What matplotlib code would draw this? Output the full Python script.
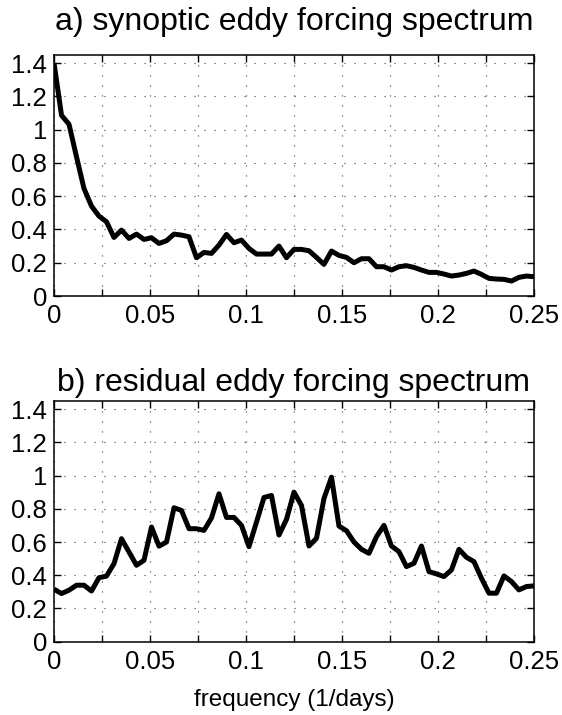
import numpy as np
import matplotlib
matplotlib.use("Agg")
import matplotlib.pyplot as plt
from matplotlib.ticker import FixedLocator, FuncFormatter

# frequency axis: 65 points, spacing 1/256 day^-1
freq = np.arange(65) / 256.0

synoptic = [1.40, 1.086, 1.032, 0.836, 0.646, 0.54, 0.48, 0.446, 0.352, 0.396,
            0.346, 0.372, 0.34, 0.35, 0.316, 0.332, 0.372, 0.366, 0.356, 0.23,
            0.262, 0.256, 0.306, 0.37, 0.32, 0.336, 0.286, 0.252, 0.252, 0.252,
            0.30, 0.23, 0.28, 0.28, 0.272, 0.232, 0.19, 0.27, 0.244, 0.232,
            0.20, 0.224, 0.224, 0.176, 0.176, 0.156, 0.176, 0.182, 0.172, 0.156,
            0.142, 0.142, 0.132, 0.12, 0.126, 0.136, 0.15, 0.13, 0.106, 0.102,
            0.10, 0.09, 0.112, 0.12, 0.116]

residual = [0.316, 0.29, 0.31, 0.34, 0.34, 0.305, 0.385, 0.395, 0.47, 0.62,
            0.54, 0.46, 0.49, 0.69, 0.575, 0.60, 0.806, 0.79, 0.68, 0.68,
            0.67, 0.745, 0.89, 0.748, 0.748, 0.70, 0.572, 0.72, 0.868, 0.88,
            0.642, 0.736, 0.90, 0.82, 0.576, 0.622, 0.862, 0.99, 0.696, 0.668,
            0.60, 0.556, 0.532, 0.632, 0.70, 0.576, 0.542, 0.452, 0.472, 0.576,
            0.422, 0.408, 0.392, 0.432, 0.556, 0.508, 0.482, 0.382, 0.292, 0.292,
            0.396, 0.362, 0.312, 0.332, 0.336]

titles = ["a) synoptic eddy forcing spectrum", "b) residual eddy forcing spectrum"]
xticks = [i * 0.025 for i in range(11)]
yticks = [i * 0.2 for i in range(8)]
xlabel = "frequency (1/days)"

plt.rcParams['font.family'] = ['Liberation Sans', 'DejaVu Sans']

fig = plt.figure(figsize=(5.62, 7.15), dpi=100)
ax1 = fig.add_axes([0.0961, 0.586, 0.854, 0.3375])
ax2 = fig.add_axes([0.0961, 0.1025, 0.854, 0.337])


def xfmt(v, pos):
    k = int(round(v / 0.025))
    if k % 2:
        return ""
    s = f"{v:.2f}".rstrip("0").rstrip(".")
    return s


def yfmt(v, pos):
    return f"{v:.1f}".rstrip("0").rstrip(".") if abs(v) > 1e-9 else "0"


for ax, data, title, tpad in zip([ax1, ax2], [synoptic, residual], titles, [18, 7]):
    ax.plot(freq, data, color="black", lw=3.6, solid_joinstyle="round",
            solid_capstyle="butt", zorder=3)
    ax.set_xlim(0, 0.25)
    ax.set_ylim(0, 1.45)
    ax.xaxis.set_major_locator(FixedLocator(xticks))
    ax.yaxis.set_major_locator(FixedLocator(yticks))
    ax.xaxis.set_major_formatter(FuncFormatter(xfmt))
    ax.yaxis.set_major_formatter(FuncFormatter(yfmt))
    ax.tick_params(direction="in", length=5, width=1, top=True, right=True,
                   labelsize=18.5)
    ax.tick_params(axis="x", pad=6)
    ax.tick_params(axis="y", pad=5)
    ax.grid(True, color="0.25", linestyle=(0, (1, 8)), linewidth=0.8)
    for sp in ax.spines.values():
        sp.set_linewidth(1.1)
    ax.set_title(title, fontsize=23, pad=tpad)

ax2.set_xlabel(xlabel, fontsize=17.5, labelpad=11)

fig.savefig("out.png", dpi=100, facecolor="white")
